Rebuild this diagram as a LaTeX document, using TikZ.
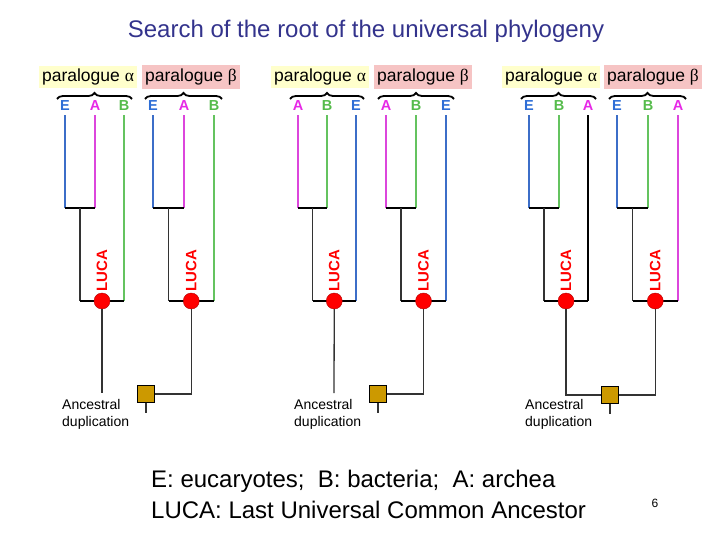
\documentclass[tikz,border=0pt]{standalone}
\usepackage{fontspec}
\setmainfont{Liberation Sans}
\newfontfamily\grkfont{Liberation Serif}
\usetikzlibrary{positioning,decorations.pathreplacing}
\definecolor{colE}{RGB}{46,110,214}
\definecolor{colA}{RGB}{230,40,230}
\definecolor{colB}{RGB}{85,187,75}
\definecolor{lineE}{RGB}{60,110,200}
\definecolor{lineA}{RGB}{220,70,220}
\definecolor{lineB}{RGB}{100,195,95}
\definecolor{titleblue}{RGB}{51,51,140}
\definecolor{alphabg}{RGB}{255,255,204}
\definecolor{betabg}{RGB}{246,196,196}
\definecolor{dupgold}{RGB}{204,153,0}
\tikzset{
  leaf/.style={font=\fontsize{14.5}{14.5}\selectfont\bfseries, inner sep=0pt},
  para/.style={font=\fontsize{17.5}{17.5}\selectfont, inner xsep=3pt, minimum height=22pt},
  bar/.style={line width=2.4pt},
  twig/.style={line width=1.1pt},
  stem/.style={line width=1.3pt, draw=black!80},
  luca/.style={circle, fill=red, draw=red!70!black, minimum size=16pt, inner sep=0pt},
  lucalbl/.style={text=red, font=\fontsize{15}{15}\selectfont\bfseries, rotate=90, anchor=west, inner sep=1pt},
  dup/.style={fill=dupgold, draw=black, line width=0.8pt, minimum size=17pt, inner sep=0pt},
  note/.style={align=left, anchor=north west, font=\fontsize{14}{17}\selectfont, inner sep=0pt},
  paren/.style={decorate, decoration={brace, amplitude=6pt}, line width=1.8pt}
}
\begin{document}
\begin{tikzpicture}[x=1pt,y=-1pt]
  \useasboundingbox (0,0) rectangle (720,540);
  \node[text=titleblue, font=\fontsize{24}{24}\selectfont] (title) at (366,31) {Search of the root of the universal phylogeny};
  \foreach \n/\x/\g/\f in {p1a/88/α/alphabg, p1b/191/β/betabg, p2a/320/α/alphabg, p2b/423/β/betabg, p3a/551/α/alphabg, p3b/653/β/betabg}
    \node[para, fill=\f] (\n-lbl) at (\x,77) {paralogue {\grkfont\g}};
  \foreach \n/\xa/\xb/\xc/\la/\lb/\lc/\ka/\kb/\kc in {
    p1a/65/95/124/E/A/B/lineE/lineA/lineB,
    p1b/153/184/214/E/A/B/lineE/lineA/lineB,
    p2a/298/327/356/A/B/E/lineA/lineB/lineE,
    p2b/386/416/446/A/B/E/lineA/lineB/lineE,
    p3a/529/559/588/E/B/A/lineE/lineB/black,
    p3b/617/648/678/E/B/A/lineE/lineB/lineA}
  {
    \node[leaf, text=col\la] (\n-1) at (\xa,106) {\la};
    \node[leaf, text=col\lb] (\n-2) at (\xb,106) {\lb};
    \node[leaf, text=col\lc] (\n-3) at (\xc,106) {\lc};
    \coordinate (\n-i) at ({(\xa+\xb)/2},208);
    \coordinate (\n-o) at ({(\xa+\xb)/4+\xc/2},301);
    \draw[twig, draw=\ka, shorten <=4pt] (\n-1.south) -- (\n-1 |- \n-i);
    \draw[twig, draw=\kb, shorten <=4pt] (\n-2.south) -- (\n-2 |- \n-i);
    \draw[twig, draw=\kc, shorten <=4pt] (\n-3.south) -- (\n-3 |- \n-o);
    \draw[bar] (\n-1 |- \n-i) -- (\n-2 |- \n-i);
    \draw[stem] (\n-i) -- (\n-i |- \n-o);
    \draw[bar] (\n-i |- \n-o) -- (\n-3 |- \n-o);
    \draw[paren] ({\xa-8},99) -- ({\xc+8},99);
    \node[luca] (\n-r) at (\n-o) {};
    \node[lucalbl] (\n-luca) at ([yshift=8pt]\n-o) {LUCA};
  }
  \node[dup] (d1) at (146,394) {};
  \node[dup] (d2) at (378,394) {};
  \node[dup] (d3) at (610,395) {};
  \coordinate (p1a-e) at (102,393);
  \coordinate (p2a-e) at (334,393);
  \draw[stem] (p1a-r.south) -- (p1a-e);
  \draw[stem] (p1b-r.south) |- (d1);
  \draw[stem] (p2a-r.south) -- (p2a-e);
  \draw[stem] (p2b-r.south) |- (d2);
  \draw[stem] (p3a-r.south) |- (d3);
  \draw[stem] (p3b-r.south) |- (d3);
  \foreach \d in {d1,d2,d3}
  {
    \coordinate (\d-b) at ([yshift=-10pt]\d.south);
    \draw[stem] (\d.south) -- (\d-b);
  }
  \node[note] (n1) at (62,399) {Ancestral\\duplication};
  \node[note] (n2) at (294,399) {Ancestral\\duplication};
  \node[note] (n3) at (525,399) {Ancestral\\duplication};
  \node[anchor=west, inner sep=0pt, font=\fontsize{24}{24}\selectfont] (key1) at (151,481) {E: eucaryotes;\ \ B: bacteria;\ \ A: archea};
  \node[anchor=west, inner sep=0pt, font=\fontsize{24}{24}\selectfont] (key2) at (151,510) {LUCA: Last Universal Common Ancestor};
  \node[font=\fontsize{12}{12}\selectfont] (pg) at (655,503) {6};
\end{tikzpicture}
\end{document}
